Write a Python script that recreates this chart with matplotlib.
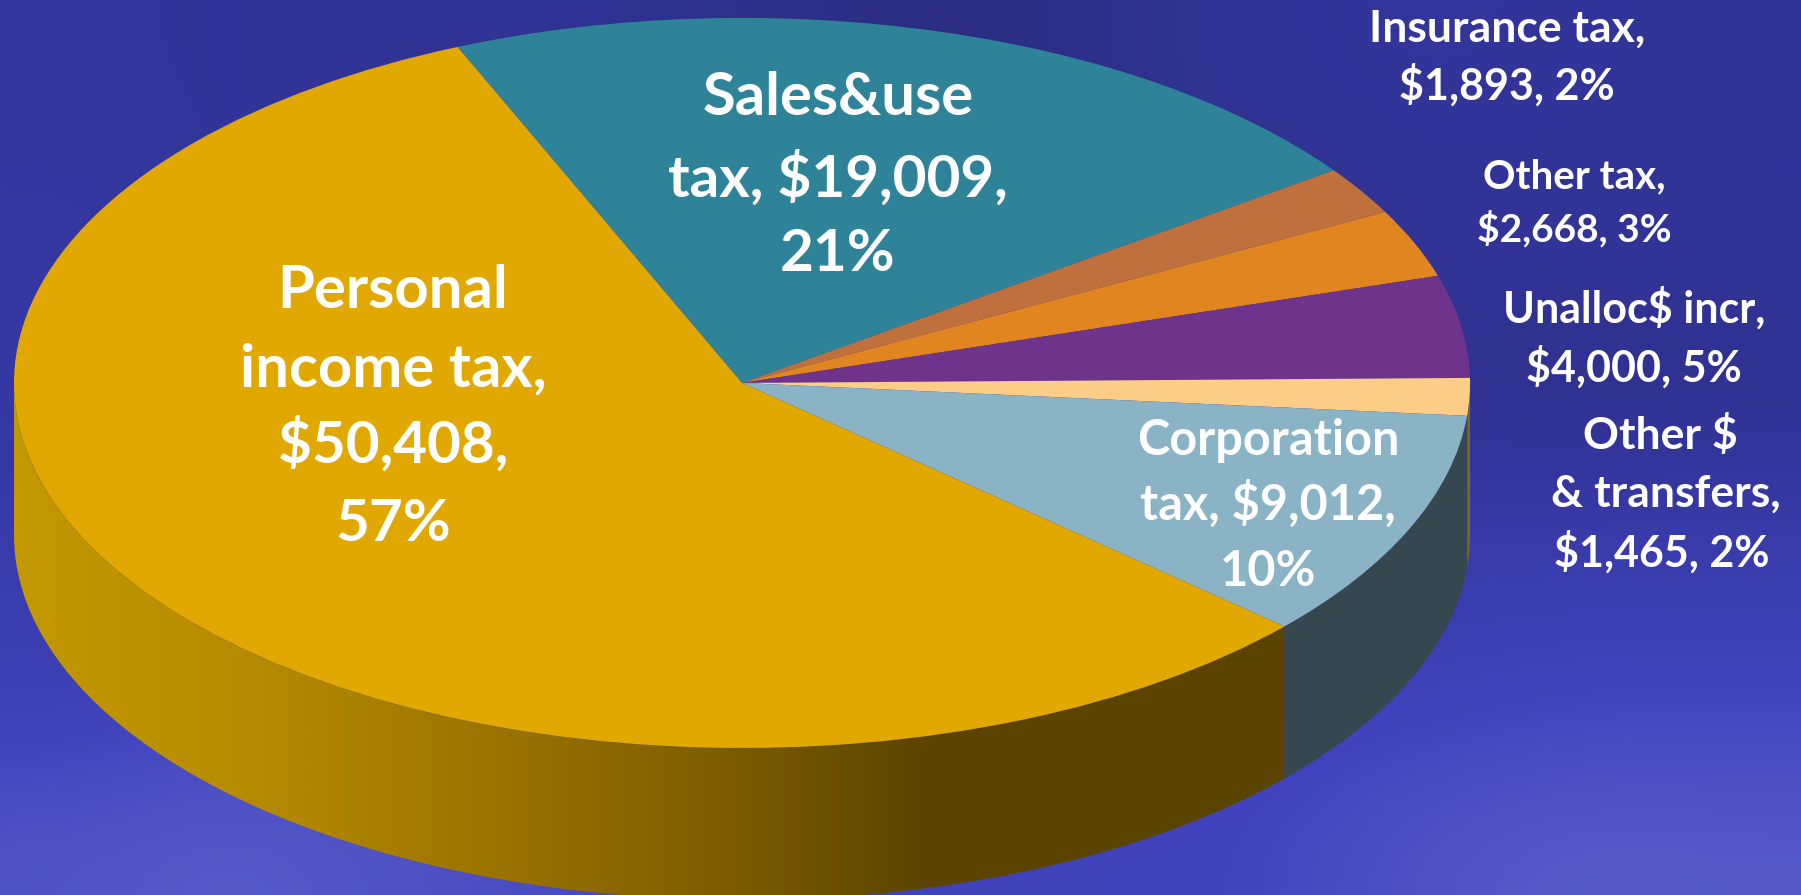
import numpy as np
import matplotlib.pyplot as plt
from matplotlib.colors import LinearSegmentedColormap
from matplotlib.patches import Polygon

W, H = 1801, 895

# values, clockwise from the top of the pie
categories = ["Sales&use tax", "Insurance tax", "Other tax", "Unalloc$ incr",
              "Other $ & transfers", "Corporation tax", "Personal income tax"]
values = [19009, 1893, 2668, 4000, 1465, 9012, 50408]
top_colors = ["#2E8399", "#C0703C", "#E08520", "#6E348C", "#FBCD87", "#8AB3C5", "#E0A800"]
side_colors = ["#1C5060", "#704020", "#885010", "#421F54", "#7A6040", "#36474F", None]
start_angle = 113.0

# gold side goes dark from left to right
gold_stops = [(0.0, "#C39800"), (0.15, "#B88C00"), (0.3, "#A07800"), (0.42, "#8A6600"),
              (0.47, "#7F6000"), (0.62, "#5D4500"), (1.0, "#5A4300")]

# background clouds, brightness
clouds = [
    [0.32, 0.30, 0.25, 0.28, 0.22, 0.12, 0.05, 0.20, 0.30, 0.32, 0.30, 0.28],
    [0.35, 0.30, 0.28, 0.25, 0.25, 0.20, 0.10, 0.20, 0.24, 0.30, 0.28, 0.30],
    [0.40, 0.35, 0.30, 0.30, 0.30, 0.28, 0.25, 0.25, 0.20, 0.25, 0.30, 0.28],
    [0.40, 0.38, 0.35, 0.35, 0.35, 0.35, 0.32, 0.30, 0.30, 0.25, 0.15, 0.22],
    [0.42, 0.45, 0.45, 0.45, 0.45, 0.45, 0.45, 0.45, 0.42, 0.40, 0.42, 0.42],
    [0.52, 0.52, 0.55, 0.55, 0.55, 0.55, 0.55, 0.55, 0.55, 0.52, 0.55, 0.55],
    [0.60, 0.72, 0.72, 0.65, 0.60, 0.60, 0.60, 0.60, 0.62, 0.65, 0.72, 0.72],
    [0.85, 0.92, 0.85, 0.78, 0.68, 0.62, 0.62, 0.62, 0.68, 0.85, 0.92, 0.90],
]

# one line of text per entry, y is the baseline
label_lines = ["Sales&use", "tax, $19,009,", "21%",
               "Personal", "income tax,", "$50,408,", "57%",
               "Corporation", "tax, $9,012,", "10%",
               "Insurance tax,", "$1,893, 2%",
               "Other tax,", "$2,668, 3%",
               "Unalloc$ incr,", "$4,000, 5%",
               "Other $", "& transfers,", "$1,465, 2%"]
label_x = [838, 838, 838,
           393, 393, 393, 393,
           1268, 1268, 1268,
           1507, 1507,
           1574, 1574,
           1634, 1634,
           1660, 1666, 1662]
label_y = [115, 197, 271,
           308, 386, 463, 541,
           455, 520, 586,
           42, 100,
           188, 241,
           323, 382,
           449, 507, 567]
label_size = [43, 42, 42,
              43, 43, 42, 42,
              35, 35, 35,
              32, 31,
              29, 28,
              31, 31,
              32, 32, 31]

plt.rcParams['font.family'] = ['Lato', 'DejaVu Sans']
fig = plt.figure(figsize=((W + 0.1) / 100, (H + 0.1) / 100), dpi=100)

# background
ax_bg = fig.add_axes([0, 0, 1, 1])
cmap_bg = LinearSegmentedColormap.from_list("bg", ["#29297A", "#33369C", "#4144BE", "#5F61CC"])
ax_bg.imshow(clouds, cmap=cmap_bg, vmin=0, vmax=1, aspect='auto', interpolation='bicubic')
ax_bg.axis('off')

# the unit circle of this axes is the top face of the pie
cx, cy, rx, ry = 742, 383, 728, 365
depth = 152 / ry
ax = fig.add_axes([(cx - rx) / W, 1 - (cy + ry) / H, 2 * rx / W, 2 * ry / H])
ax.patch.set_visible(False)
wedges, _ = ax.pie(values, colors=top_colors, startangle=start_angle, counterclock=False,
                   radius=1, wedgeprops={'linewidth': 0, 'zorder': 3})
ax.set_aspect('auto')

# side wall, only the front half of the rim shows
angle = start_angle
for value, color in zip(values, side_colors):
    a1 = angle
    a2 = angle - 360 * value / sum(values)
    angle = a2
    t = np.radians(np.linspace(a1, a2, 300))
    t = t[np.sin(t) <= 0]
    if len(t) == 0:
        continue
    xs = np.cos(t)
    ys = np.sin(t)
    points = np.column_stack([np.r_[xs, xs[::-1]], np.r_[ys, ys[::-1] - depth]])
    if color is not None:
        ax.add_patch(Polygon(points, closed=True, facecolor=color, edgecolor='none', zorder=1, clip_on=False))
    else:
        cmap_gold = LinearSegmentedColormap.from_list("gold", gold_stops)
        shade = np.linspace(0, 1, 512).reshape(1, -1)
        img = ax.imshow(shade, cmap=cmap_gold, extent=[-1, 1, -1 - depth, 1], aspect='auto', zorder=1)
        clip = Polygon(points, closed=True, transform=ax.transData, facecolor='none', edgecolor='none')
        ax.add_patch(clip)
        clip.set_clip_on(False)
        img.set_clip_path(clip)
        img.set_clip_box(fig.bbox)

ax.set_xlim(-1, 1)
ax.set_ylim(-1, 1)
ax.axis('off')

for line, x, y, size in zip(label_lines, label_x, label_y, label_size):
    fig.text(x / W, 1 - y / H, line, color='white', fontsize=size, fontweight='bold',
             ha='center', va='baseline')

fig.savefig("out.png", dpi=100)
